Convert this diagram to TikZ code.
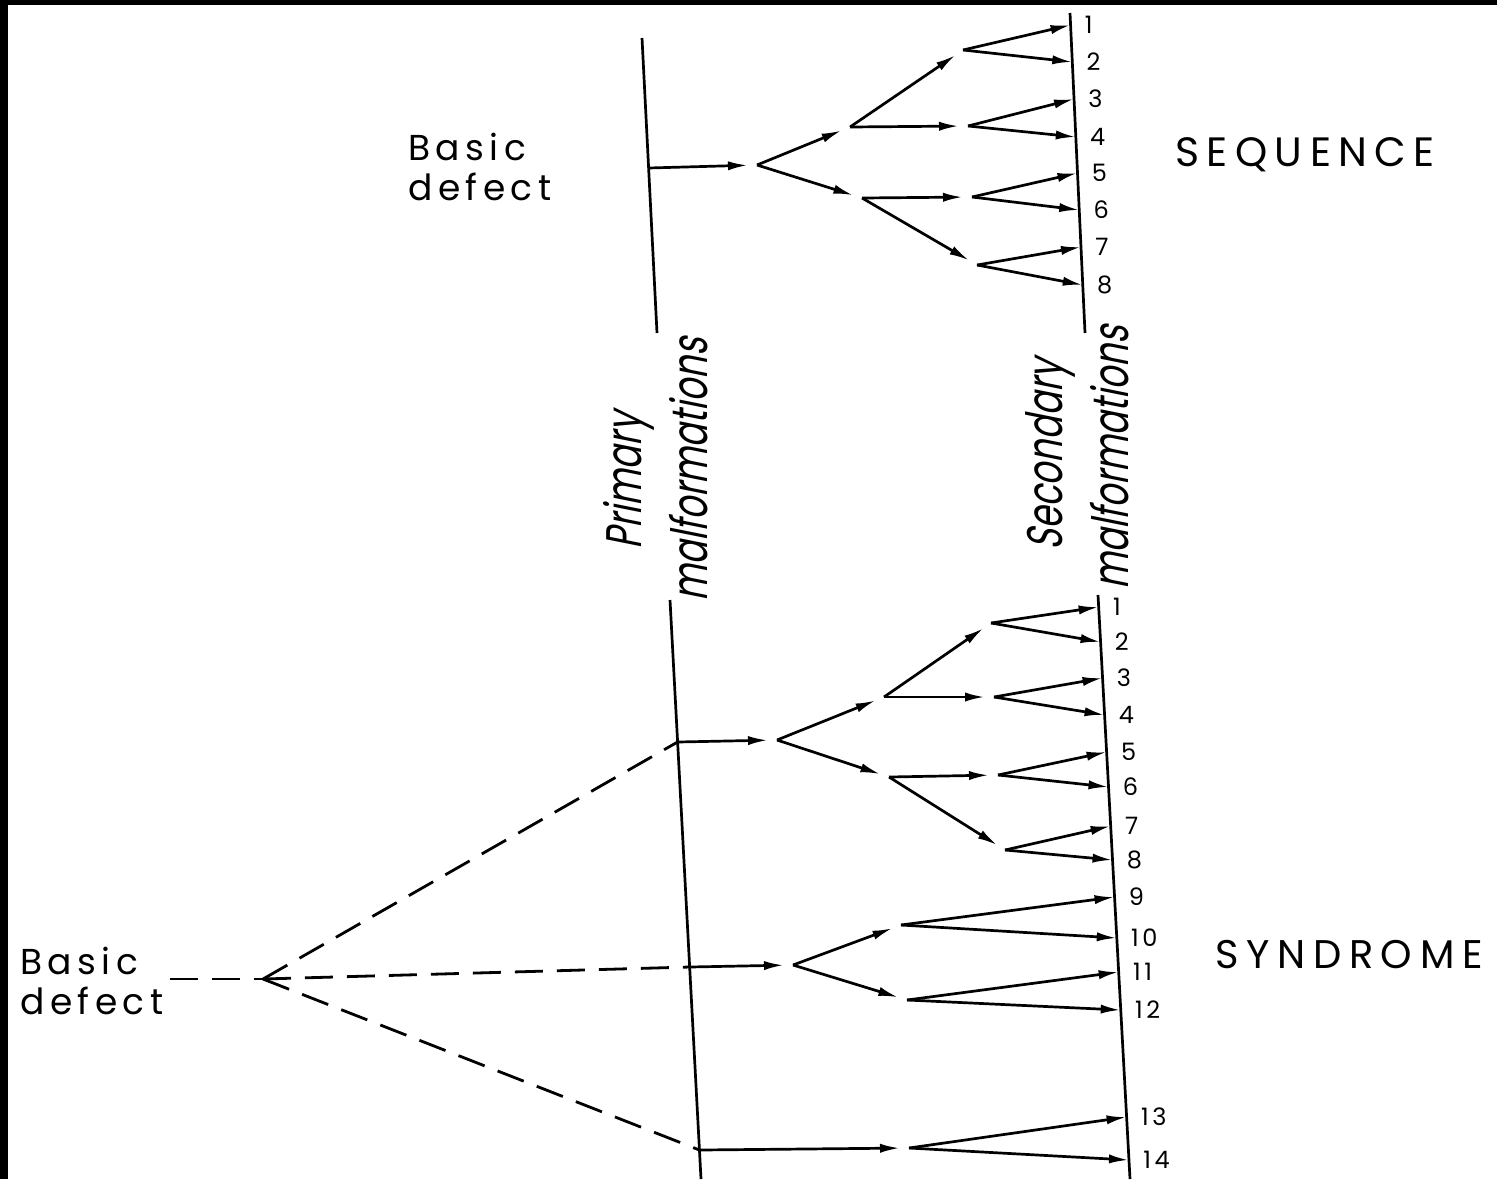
\documentclass[tikz,border=0pt]{standalone}
\usepackage{fontspec}
\usetikzlibrary{arrows.meta}
\newfontfamily\lblfont[LetterSpace=15]{Poppins}
\newfontfamily\seqfont[LetterSpace=18]{Poppins}
\newfontfamily\synfont[LetterSpace=19]{Poppins}
\newfontfamily\rotfont[FakeSlant=0.2,FakeStretch=0.71]{Poppins}
\begin{document}
\begin{tikzpicture}[x=0.5pt,y=-0.5pt,
  ln/.style={line width=1.35pt},
  tipstyle/.style={-{Latex[length=10pt,width=4.6pt]}},
  inarr/.style={ln,tipstyle,shorten >=4.5pt},
  outarr/.style={ln,tipstyle},
  dsh/.style={line width=1.4pt,dash pattern=on 14pt off 7pt},
  num/.style={font=\lblfont\fontsize{12}{12}\selectfont, anchor=west, inner sep=0pt, xshift=7pt},
  big/.style={font=\lblfont\fontsize{18}{20}\selectfont, inner sep=0pt},
  rot/.style={font=\rotfont\fontsize{25}{25}\selectfont, rotate=90, inner sep=0pt}]

\useasboundingbox[fill=white] (0,0) rectangle (1497,1179);
\fill (0,0) rectangle (8,1179);
\fill (0,0) rectangle (1497,5);

% ---------- SEQUENCE (top) ----------
\coordinate (pt1) at (642,38);
\coordinate (pt2) at (657,333);
\coordinate (st1) at (1070,13);
\coordinate (st2) at (1085,333);
\draw[ln] (pt1) -- (pt2);
\draw[ln] (st1) -- (st2);

\coordinate (p0) at (648.6,168);
\coordinate (a0) at (757,165);
\coordinate (b1) at (850,127);
\coordinate (b2) at (862,198);
\coordinate (c1) at (963,50);
\coordinate (c2) at (968,126);
\coordinate (c3) at (972,197);
\coordinate (c4) at (977,265);

\coordinate (s1) at (1070.56,25);
\coordinate (s2) at (1072.30,62);
\coordinate (s3) at (1074.03,99);
\coordinate (s4) at (1075.81,137);
\coordinate (s5) at (1077.50,173);
\coordinate (s6) at (1079.23,210);
\coordinate (s7) at (1080.97,247);
\coordinate (s8) at (1082.75,285);

\draw[inarr] (p0) -- (a0);
\draw[inarr] (a0) -- (b1);
\draw[inarr] (a0) -- (b2);
\draw[inarr] (b1) -- (c1);
\draw[inarr] (b1) -- (c2);
\draw[inarr] (b2) -- (c3);
\draw[inarr] (b2) -- (c4);
\draw[outarr] (c1) -- (s1);
\draw[outarr] (c1) -- (s2);
\draw[outarr] (c2) -- (s3);
\draw[outarr] (c2) -- (s4);
\draw[outarr] (c3) -- (s5);
\draw[outarr] (c3) -- (s6);
\draw[outarr] (c4) -- (s7);
\draw[outarr] (c4) -- (s8);

\foreach \k in {1,...,8} {\node[num] (ns\k) at (s\k) {\k};}

\node[big, anchor=north west, align=left] (bdA) at (408,133) {Basic\\defect};
\node[anchor=base west, inner sep=0pt, font=\seqfont\fontsize{20.5}{20}\selectfont] (seq) at (1175,166) {SEQUENCE};

% ---------- rotated labels ----------
\node[rot] (prim1) at (629,481) {Primary};
\node[rot] (prim2) at (689,470) {malformations};
\node[rot] (sec1) at (1050,455) {Secondary};
\node[rot] (sec2) at (1110,458) {malformations};

% ---------- SYNDROME (bottom) ----------
\coordinate (pb1) at (670,600);
\coordinate (pb2) at (701,1179);
\coordinate (sb1) at (1098,595);
\coordinate (sb2) at (1130,1179);
\draw[ln] (pb1) -- (pb2);
\draw[ln] (sb1) -- (sb2);

\coordinate (q1) at (677.6,742);
\coordinate (q2) at (689.6,967);
\coordinate (q3) at (699.4,1150);

\coordinate (a1) at (777,740);
\coordinate (b11) at (884,697);
\coordinate (b12) at (889,777);
\coordinate (c11) at (991,623);
\coordinate (c12) at (994,697);
\coordinate (c13) at (998,775);
\coordinate (c14) at (1005,850);
\coordinate (a2) at (793,965);
\coordinate (b21) at (901,925);
\coordinate (b22) at (907,1000);
\coordinate (a3) at (909,1148);

\coordinate (t1) at (1098.66,607);
\coordinate (t2) at (1100.58,642);
\coordinate (t3) at (1102.55,678);
\coordinate (t4) at (1104.57,715);
\coordinate (t5) at (1106.60,752);
\coordinate (t6) at (1108.52,787);
\coordinate (t7) at (1110.66,826);
\coordinate (t8) at (1112.52,860);
\coordinate (t9) at (1114.55,897);
\coordinate (t10) at (1116.79,938);
\coordinate (t11) at (1118.66,972);
\coordinate (t12) at (1120.74,1010);
\coordinate (t13) at (1126.60,1117);
\coordinate (t14) at (1128.96,1160);

\draw[inarr] (q1) -- (a1);
\draw[inarr] (a1) -- (b11);
\draw[inarr] (a1) -- (b12);
\draw[inarr] (b11) -- (c11);
\draw[inarr] (b11) -- (c12);
\draw[inarr] (b12) -- (c13);
\draw[inarr] (b12) -- (c14);
\draw[outarr] (c11) -- (t1);
\draw[outarr] (c11) -- (t2);
\draw[outarr] (c12) -- (t3);
\draw[outarr] (c12) -- (t4);
\draw[outarr] (c13) -- (t5);
\draw[outarr] (c13) -- (t6);
\draw[outarr] (c14) -- (t7);
\draw[outarr] (c14) -- (t8);

\draw[inarr] (q2) -- (a2);
\draw[inarr] (a2) -- (b21);
\draw[inarr] (a2) -- (b22);
\draw[outarr] (b21) -- (t9);
\draw[outarr] (b21) -- (t10);
\draw[outarr] (b22) -- (t11);
\draw[outarr] (b22) -- (t12);

\draw[inarr] (q3) -- (a3);
\draw[outarr] (a3) -- (t13);
\draw[outarr] (a3) -- (t14);

\foreach \k in {1,...,14} {\node[num] (nt\k) at (t\k) {\k};}

\node[anchor=base west, inner sep=0pt, font=\synfont\fontsize{20}{20}\selectfont] (syn) at (1215,968) {SYNDROME};

% dashed basic defect
\node[big, anchor=north west, align=left] (bdB) at (20,947) {Basic\\defect};
\coordinate (apex) at (263,979);
\draw[dsh, shorten <=3pt] (bdB.east |- apex) -- (apex);
\draw[dsh] (apex) -- (q1);
\draw[dsh] (apex) -- (q2);
\draw[dsh] (apex) -- (q3);
\end{tikzpicture}
\end{document}
